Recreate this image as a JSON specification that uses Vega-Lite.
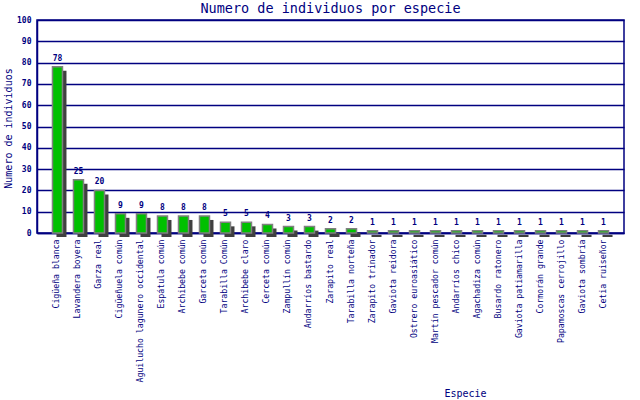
{
  "$schema": "https://vega.github.io/schema/vega-lite/v6.json",
  "autosize": "none",
  "width": 587,
  "height": 213,
  "padding": {"left": 37, "top": 20, "right": 16, "bottom": 167},
  "background": "white",
  "title": {
    "text": "Numero de individuos por especie",
    "font": "DejaVu Sans Mono",
    "fontSize": 13.5,
    "fontWeight": "normal",
    "color": "#000080",
    "baseline": "bottom",
    "offset": 5,
    "dy": 18
  },
  "config": {
    "view": {"stroke": "#000080", "strokeWidth": 1.5},
    "axis": {
      "labelFont": "DejaVu Sans Mono",
      "titleFont": "DejaVu Sans Mono",
      "labelColor": "#000080",
      "titleColor": "#000080",
      "domainColor": "#000080",
      "gridColor": "#000080",
      "gridOpacity": 1,
      "titleFontWeight": "normal"
    }
  },
  "data": {
    "values": [
      {"especie": "Cigüeña blanca", "n": 78},
      {"especie": "Lavandera boyera", "n": 25},
      {"especie": "Garza real", "n": 20},
      {"especie": "Cigüeñuela común", "n": 9},
      {"especie": "Aguilucho lagunero occidental", "n": 9},
      {"especie": "Espátula común", "n": 8},
      {"especie": "Archibebe común", "n": 8},
      {"especie": "Garceta común", "n": 8},
      {"especie": "Tarabilla Común", "n": 5},
      {"especie": "Archibebe claro", "n": 5},
      {"especie": "Cerceta común", "n": 4},
      {"especie": "Zampullín común", "n": 3},
      {"especie": "Andarríos bastardo", "n": 3},
      {"especie": "Zarapito real", "n": 2},
      {"especie": "Tarabilla norteña", "n": 2},
      {"especie": "Zarapito trinador", "n": 1},
      {"especie": "Gaviota reidora", "n": 1},
      {"especie": "Ostrero euroasiático", "n": 1},
      {"especie": "Martín pescador común", "n": 1},
      {"especie": "Andarríos chico", "n": 1},
      {"especie": "Agachadiza común", "n": 1},
      {"especie": "Busardo ratonero", "n": 1},
      {"especie": "Gaviota patiamarilla", "n": 1},
      {"especie": "Cormorán grande", "n": 1},
      {"especie": "Papamoscas cerrojillo", "n": 1},
      {"especie": "Gaviota sombría", "n": 1},
      {"especie": "Cetia ruiseñor", "n": 1}
    ]
  },
  "encoding": {
    "x": {
      "field": "especie",
      "type": "nominal",
      "sort": null,
      "scale": {"paddingInner": 0.524, "paddingOuter": 0.737},
      "axis": {
        "title": "Especie",
        "titleFontSize": 10,
        "titleX": 428,
        "titleY": 163,
        "titleAnchor": null,
        "titleAlign": "center",
        "titleBaseline": "alphabetic",
        "labelAngle": -90,
        "labelFontSize": 8.2,
        "labelPadding": 6,
        "ticks": false,
        "domainWidth": 1.5
      }
    },
    "y": {
      "field": "n",
      "type": "quantitative",
      "scale": {"domain": [0, 100], "nice": false},
      "axis": {
        "title": "Numero de individuos",
        "titleFontSize": 10,
        "titleX": -29,
        "titleY": 108,
        "titleAngle": -90,
        "titleAlign": "center",
        "titleBaseline": "middle",
        "values": [0, 10, 20, 30, 40, 50, 60, 70, 80, 90, 100],
        "labelFontSize": 8,
        "labelFontWeight": "bold",
        "labelPadding": 6,
        "ticks": false,
        "gridWidth": 1.5,
        "domainWidth": 1.5
      }
    }
  },
  "layer": [
    {
      "mark": {
        "type": "bar",
        "color": "#404040",
        "xOffset": 4,
        "yOffset": 4,
        "y2Offset": 4,
        "clip": false
      }
    },
    {
      "mark": {
        "type": "bar",
        "color": "#00c000",
        "stroke": "#808080",
        "strokeWidth": 1.5
      }
    },
    {
      "mark": {
        "type": "text",
        "font": "DejaVu Sans Mono",
        "fontSize": 8,
        "fontWeight": "bold",
        "color": "#000080",
        "baseline": "bottom",
        "dy": -4
      },
      "encoding": {"text": {"field": "n", "type": "quantitative"}}
    }
  ]
}
